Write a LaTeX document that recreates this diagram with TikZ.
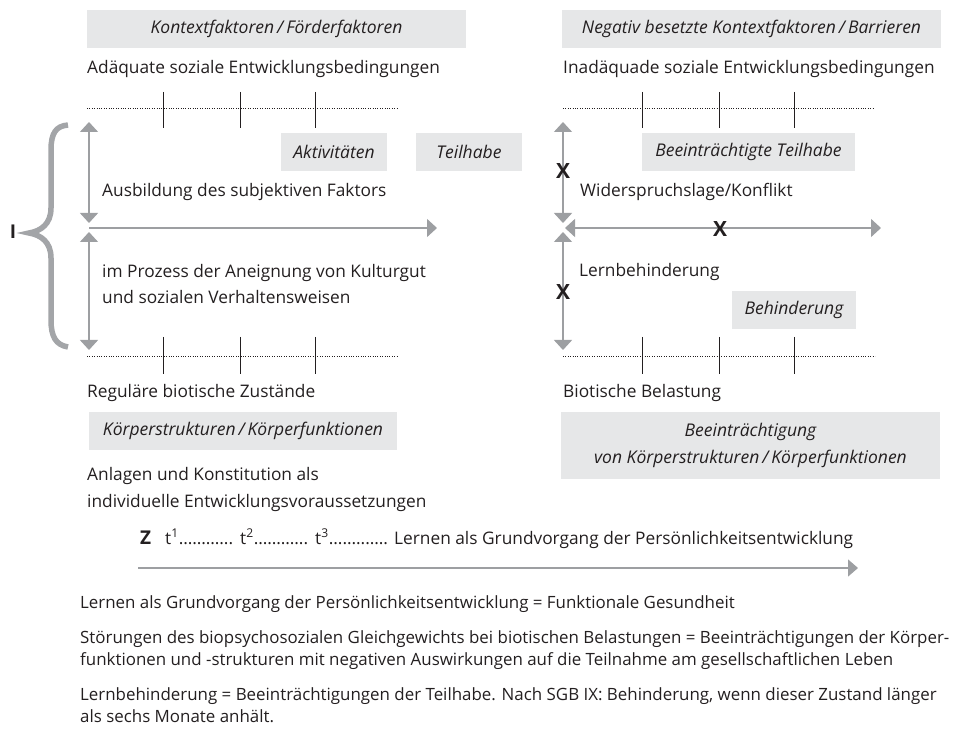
\documentclass[tikz,border=0pt]{standalone}
\usepackage{fontspec}
\setmainfont{Open Sans}
\usetikzlibrary{arrows.meta}
\definecolor{boxgray}{HTML}{E6E7E8}
\definecolor{arrgray}{HTML}{9D9FA2}
\definecolor{bracegray}{HTML}{A3A5A8}
\definecolor{txt}{HTML}{231F20}
\newcommand\dotrun[2]{\hbox to #1{#2\xleaders\hbox to 4.3pt{\hss.\hss}\hfill}}
\begin{document}
\begin{tikzpicture}[x=1pt,y=-1pt,
  lbl/.style={anchor=base west,inner sep=0pt,text=txt,font=\fontsize{17.3}{26}\selectfont,align=left},
  para/.style={anchor=base west,inner sep=0pt,text=txt,font=\fontsize{16.9}{22}\selectfont,align=left},
  gbox/.style={fill=boxgray,inner sep=0pt,text=txt,font=\fontsize{17.5}{27}\selectfont\itshape,align=center},
  dotline/.style={draw=txt,line width=0.9pt,dash pattern=on 0.9pt off 1.5pt},
  tickline/.style={draw=txt,line width=0.8pt},
  garrow/.style={draw=arrgray,line width=1.3pt,-{Triangle[length=10pt,width=18pt]}},
  gdarrow/.style={draw=arrgray,line width=1.3pt,{Triangle[length=10pt,width=18pt]}-{Triangle[length=10pt,width=18pt]}},
  bigmark/.style={inner sep=0pt,text=txt,font=\fontsize{21}{21}\selectfont\bfseries}
]
\useasboundingbox (0,0) rectangle (962,735);

% ---------- gray boxes ----------
\node[gbox,minimum width=379pt,minimum height=38pt] (kf) at (276.5,29) {Kontextfaktoren\,/\,Förderfaktoren};
\node[gbox,minimum width=379pt,minimum height=38pt] (nk) at (751.5,29) {Negativ besetzte Kontextfaktoren\,/\,Barrieren};
\node[gbox,minimum width=106pt,minimum height=38pt] (akt) at (334,152) {Aktivitäten};
\node[gbox,minimum width=106pt,minimum height=38pt] (teil) at (469,152) {Teilhabe};
\node[gbox,minimum width=213pt,minimum height=38pt] (bt) at (748.5,152) {Beeinträchtigte Teilhabe};
\node[gbox,minimum width=124pt,minimum height=38pt] (beh) at (794,310) {Behinderung};
\node[gbox,minimum width=308pt,minimum height=38pt] (ks) at (243,431) {Körperstrukturen\,/\,Körperfunktionen};
\node[gbox,minimum width=379pt,minimum height=67pt] (bk) at (750.5,445.5) {Beeinträchtigung\\von Körperstrukturen\,/\,Körperfunktionen};

% ---------- labels (base = baseline of last line) ----------
\node[lbl] (ad) at (87,74) {Adäquate soziale Entwicklungsbedingungen};
\node[lbl] (inad) at (563,74) {Inadäquade soziale Entwicklungsbedingungen};
\node[lbl] (ausb) at (102,197) {Ausbildung des subjektiven Faktors};
\node[lbl] (wid) at (580,197) {Widerspruchslage/Konflikt};
\node[lbl] (proz) at (102,304) {im Prozess der Aneignung von Kulturgut\\und sozialen Verhaltensweisen};
\node[lbl] (lb) at (579,277) {Lernbehinderung};
\node[lbl] (reg) at (87,398) {Reguläre biotische Zustände};
\node[lbl] (bio) at (563,398) {Biotische Belastung};
\node[lbl,font=\fontsize{17.3}{27}\selectfont] (anl) at (87,507) {Anlagen und Konstitution als\\individuelle Entwicklungsvoraussetzungen};

% ---------- dotted lines with ticks ----------
\coordinate (dl1a) at (87,108);  \coordinate (dl1b) at (398,108);
\coordinate (dl2a) at (87,356);  \coordinate (dl2b) at (398,356);
\coordinate (dr1a) at (563,108); \coordinate (dr1b) at (874,108);
\coordinate (dr2a) at (563,356); \coordinate (dr2b) at (875,356);
\draw[dotline] (dl1a) -- (dl1b);
\draw[dotline] (dl2a) -- (dl2b);
\draw[dotline] (dr1a) -- (dr1b);
\draw[dotline] (dr2a) -- (dr2b);
\foreach \x in {163,240,315} {
  \draw[tickline] (\x,92) -- (\x,128);
  \draw[tickline] (\x,337) -- (\x,374);
}
\foreach \x in {642,719,794} {
  \draw[tickline] (\x,92) -- (\x,128);
  \draw[tickline] (\x,337) -- (\x,374);
}

% ---------- left arrows ----------
\coordinate (lu1) at (89,122); \coordinate (lu2) at (89,223);
\coordinate (ll1) at (89,232); \coordinate (ll2) at (89,350);
\coordinate (lh1) at (89,228); \coordinate (lh2) at (437,228);
\draw[gdarrow] (lu2) -- (lu1);
\draw[gdarrow] (ll2) -- (ll1);
\draw[garrow] (lh1) -- (lh2);

% ---------- right arrows ----------
\coordinate (ru1) at (563,122); \coordinate (ru2) at (563,223);
\coordinate (rl1) at (563,232); \coordinate (rl2) at (563,350);
\coordinate (rh1) at (565,228); \coordinate (rh2) at (881,228);
\draw[gdarrow] (ru2) -- (ru1);
\draw[gdarrow] (rl2) -- (rl1);
\draw[gdarrow] (rh1) -- (rh2);

% ---------- X marks ----------
\node[bigmark] (x1) at (563,171) {X};
\node[bigmark] (x2) at (720,229) {X};
\node[bigmark] (x3) at (563,292) {X};

% ---------- brace and I ----------
\draw[bracegray,line width=5.5pt]
  (68,125) .. controls (56,126) and (51,133) .. (51,150) -- (51,208)
  .. controls (51,224) and (41,231) .. (29,233)
  .. controls (41,235) and (51,242) .. (51,258) -- (51,320)
  .. controls (51,337) and (56,345) .. (68,347);
\node[bigmark,font=\fontsize{19}{19}\selectfont\bfseries] (bigI) at (13,232) {I};

% ---------- time line ----------
\node[bigmark,font=\fontsize{19}{19}\selectfont\bfseries,anchor=base west] (z) at (140,544) {Z};
\node[lbl] (t1) at (165,544) {\dotrun{68pt}{t\textsuperscript{1}}};
\node[lbl] (t2) at (240,544) {\dotrun{68pt}{t\textsuperscript{2}}};
\node[lbl] (t3) at (315,544) {\dotrun{73pt}{t\textsuperscript{3}}};
\node[lbl] (lern) at (394,544) {Lernen als Grundvorgang der Persönlichkeitsentwicklung};
\coordinate (ta) at (138,568); \coordinate (tb) at (858,568);
\draw[garrow,-{Triangle[length=10pt,width=17pt]}] (ta) -- (tb);

% ---------- explanations ----------
\node[para] (p1) at (80,608) {Lernen als Grundvorgang der Persönlichkeitsentwicklung = Funktionale Gesundheit};
\node[para] (p2) at (80,665) {Störungen des biopsychosozialen Gleichgewichts bei biotischen Belastungen = Beeinträchtigungen der Körper-\\funktionen und -strukturen mit negativen Auswirkungen auf die Teilnahme am gesellschaftlichen Leben};
\node[para] (p3) at (80,722) {Lernbehinderung = Beeinträchtigungen der Teilhabe. Nach SGB IX: Behinderung, wenn dieser Zustand länger\\als sechs Monate anhält.};
\end{tikzpicture}
\end{document}
